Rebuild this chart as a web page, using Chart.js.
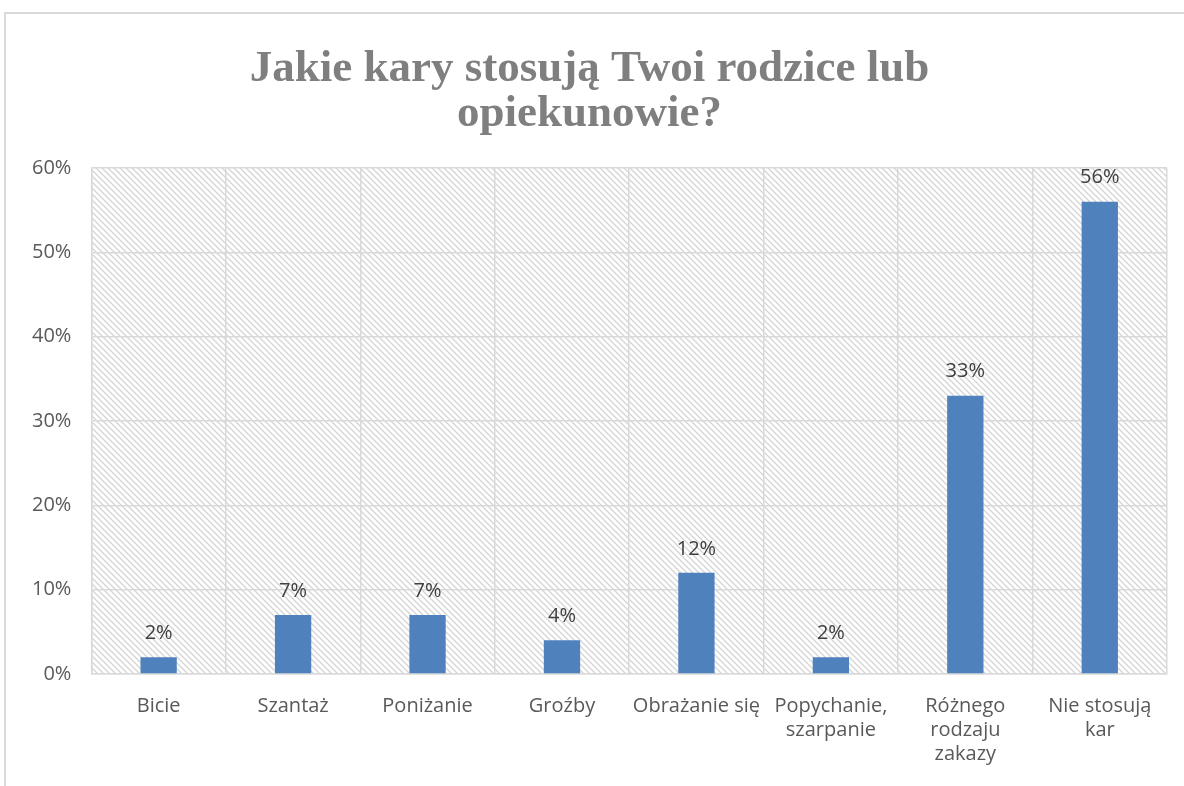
<!DOCTYPE html>
<html>
<head>
<meta charset="utf-8">
<script src="https://cdn.jsdelivr.net/npm/chart.js@4/dist/chart.umd.min.js"></script>
<style>
html,body{margin:0;padding:0;background:#fff;}
#wrap{position:absolute;left:0;top:0;width:1184px;height:786px;}
</style>
</head>
<body>
<div id="wrap"><canvas id="c" width="1184" height="786"></canvas></div>
<script>
const titleLines = ["Jakie kary stosują Twoi rodzice lub", "opiekunowie?"];
const categories = ["Bicie", "Szantaż", "Poniżanie", "Groźby", "Obrażanie się", ["Popychanie,", "szarpanie"], ["Różnego", "rodzaju", "zakazy"], ["Nie stosują", "kar"]];
const values = [2, 7, 7, 4, 12, 2, 33, 56];
const yTicks = { min: 0, max: 60, step: 10 };

function makeHatch() {
  const s = 6;
  const p = document.createElement('canvas');
  p.width = s; p.height = s;
  const g = p.getContext('2d');
  g.fillStyle = '#ffffff';
  g.fillRect(0, 0, s, s);
  g.strokeStyle = '#d4d4d4';
  g.lineWidth = 1.3;
  g.beginPath();
  g.moveTo(-1, -1); g.lineTo(s + 1, s + 1);
  g.moveTo(-1, s - 1); g.lineTo(1, s + 1);
  g.moveTo(s - 1, -1); g.lineTo(s + 1, 1);
  g.stroke();
  return p;
}

const bgPlugin = {
  id: 'bg',
  beforeDraw(chart) {
    const ctx = chart.ctx;
    ctx.save();
    ctx.fillStyle = '#fff';
    ctx.fillRect(0, 0, chart.width, chart.height);
    ctx.strokeStyle = '#d9d9d9';
    ctx.lineWidth = 2;
    ctx.beginPath();
    ctx.moveTo(5, chart.height);
    ctx.lineTo(5, 13);
    ctx.lineTo(chart.width, 13);
    ctx.stroke();
    const a = chart.chartArea;
    const pat = ctx.createPattern(makeHatch(), 'repeat');
    ctx.fillStyle = pat;
    ctx.fillRect(a.left, a.top, a.right - a.left, a.bottom - a.top);
    ctx.restore();
  }
};

const labelPlugin = {
  id: 'vals',
  afterDatasetsDraw(chart) {
    const ctx = chart.ctx;
    ctx.save();
    ctx.font = '20px "Open Sans"';
    ctx.fillStyle = '#404040';
    ctx.textAlign = 'center';
    ctx.textBaseline = 'middle';
    chart.getDatasetMeta(0).data.forEach((bar, i) => {
      ctx.fillText(values[i] + '%', bar.x, bar.y - 24);
    });
    ctx.restore();
  }
};

new Chart(document.getElementById('c'), {
  type: 'bar',
  data: {
    labels: categories,
    datasets: [{
      data: values,
      backgroundColor: '#4f81bd',
      borderWidth: 0,
      barPercentage: 0.27,
      categoryPercentage: 1
    }]
  },
  options: {
    responsive: false,
    animation: false,
    layout: { padding: { left: 12, right: 17, top: 0, bottom: 0 } },
    plugins: {
      legend: { display: false },
      tooltip: { enabled: false },
      title: {
        display: true,
        text: titleLines,
        color: '#7f7f7f',
        font: { family: '"Liberation Serif"', size: 45, weight: 'bold', lineHeight: 1.0 },
        padding: { top: 47, bottom: 31 }
      }
    },
    scales: {
      x: {
        grid: { color: '#d9d9d9', lineWidth: 1.5, offset: true, drawTicks: false },
        border: { color: '#d9d9d9', width: 1.5 },
        ticks: { color: '#595959', font: { family: '"Open Sans"', size: 20 }, padding: 20, maxRotation: 0, autoSkip: false }
      },
      y: {
        min: yTicks.min, max: yTicks.max,
        grid: { color: '#d9d9d9', lineWidth: 1.5, drawTicks: false },
        border: { color: '#d9d9d9', width: 1.5 },
        ticks: { stepSize: yTicks.step, color: '#595959', font: { family: '"Open Sans"', size: 20 }, padding: 20, callback: v => v + '%' }
      }
    }
  },
  plugins: [bgPlugin, labelPlugin]
});
</script>
</body>
</html>
